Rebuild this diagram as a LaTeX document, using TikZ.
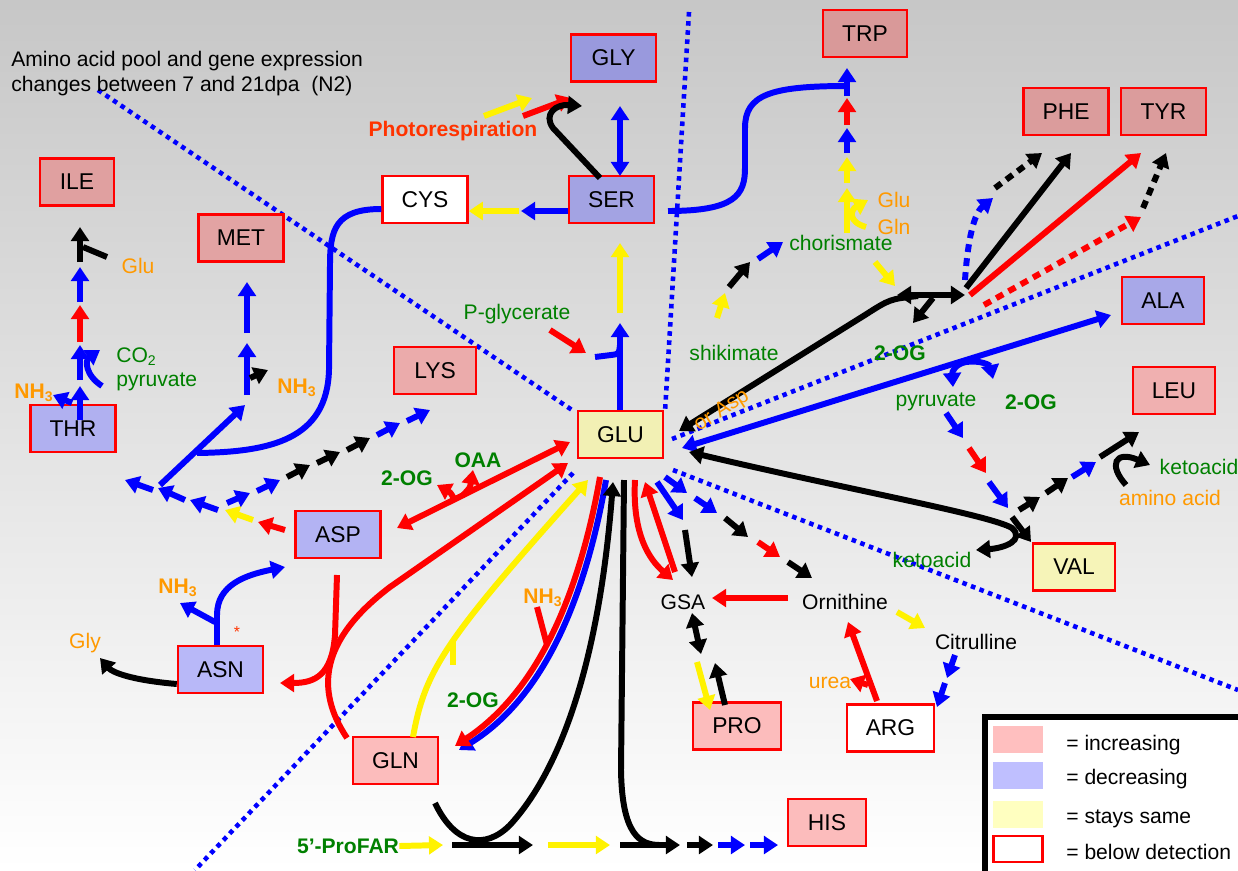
\documentclass[tikz,border=0pt]{standalone}
\usepackage{fontspec}
\setmainfont{Liberation Sans}
\usetikzlibrary{arrows.meta}

\definecolor{aagreen}{HTML}{008000}
\definecolor{aaorange}{HTML}{FF9900}
\definecolor{photo}{HTML}{FF3300}
\definecolor{incr}{HTML}{FFBFBF}
\definecolor{decr}{HTML}{BFBFFF}
\definecolor{same}{HTML}{FFFFC0}

\begin{document}
\begin{tikzpicture}[x=0.02cm, y=-0.02cm,
  >={Triangle[length=8pt,width=10pt]},
  aa/.style={draw=red, line width=1.4pt, minimum width=1.7cm, minimum height=0.94cm,
    inner sep=0pt, font=\fontsize{13}{13}\selectfont},
  lbl/.style={inner sep=0pt, font=\fontsize{12}{14}\selectfont},
  grn/.style={lbl, text=aagreen},
  grnb/.style={lbl, text=aagreen, font=\fontsize{12}{14}\selectfont\bfseries},
  org/.style={lbl, text=aaorange},
  orgb/.style={lbl, text=aaorange, font=\fontsize{12}{14}\selectfont\bfseries},
  arr/.style={->, line width=3.4pt},
  redarr/.style={arr, red},
  bluearr/.style={arr, blue},
  blackarr/.style={arr, black},
  yellowarr/.style={arr, yellow},
  dots/.style={dash pattern=on 4.5pt off 3.5pt},
  sep/.style={blue, line width=2.6pt, dash pattern=on 2.6pt off 2.6pt}]

% Background
\shade[top color=black!22, bottom color=white] (0,0) rectangle (1238,870);
\useasboundingbox (0,0) rectangle (1238,870);

% Dividers
\draw[sep] (98,90) -- (572,410);
\draw[sep] (689,12) -- (665,412);
\draw[sep] (672,439) -- (1238,216);
\draw[sep] (673,470) -- (1238,690);
\draw[sep] (573,473) -- (195,870);

% Title
\node[lbl, anchor=north west, align=left] (title) at (11,51)
  {Amino acid pool and gene expression\\changes between 7 and 21dpa\ \ (N2)};

% Amino acids
\node[aa, fill={rgb,255:red,153;green,153;blue,221}] (gly) at (613.5,58) {GLY};
\node[aa, fill={rgb,255:red,163;green,163;blue,227}] (ser) at (611.5,199.5) {SER};
\node[aa, fill=white] (cys) at (425,199.5) {CYS};
\node[aa, fill={rgb,255:red,217;green,153;blue,153}, minimum width=1.68cm] (trp) at (865,33.5) {TRP};
\node[aa, fill={rgb,255:red,219;green,156;blue,156}] (phe) at (1066,111.5) {PHE};
\node[aa, fill={rgb,255:red,219;green,156;blue,156}] (tyr) at (1163.5,111.5) {TYR};
\node[aa, fill={rgb,255:red,224;green,160;blue,160}, minimum width=1.48cm] (ile) at (77,182) {ILE};
\node[aa, fill={rgb,255:red,226;green,163;blue,163}] (met) at (241,238) {MET};
\node[aa, fill={rgb,255:red,235;green,171;blue,171}, minimum width=1.64cm] (lys) at (435,370.5) {LYS};
\node[aa, fill={rgb,255:red,168;green,168;blue,232}, minimum width=1.64cm] (ala) at (1163,300.5) {ALA};
\node[aa, fill={rgb,255:red,240;green,176;blue,176}, minimum width=1.64cm] (leu) at (1174,390.5) {LEU};
\node[aa, fill={rgb,255:red,176;green,176;blue,240}] (thr) at (73,428.5) {THR};
\node[aa, fill={rgb,255:red,242;green,240;blue,180}] (glu) at (620.5,434.5) {GLU};
\node[aa, fill={rgb,255:red,179;green,179;blue,243}] (asp) at (338,534.5) {ASP};
\node[aa, fill={rgb,255:red,246;green,244;blue,184}, minimum width=1.64cm] (val) at (1074,567) {VAL};
\node[aa, fill={rgb,255:red,184;green,184;blue,248}] (asn) at (220.5,669.5) {ASN};
\node[aa, fill={rgb,255:red,252;green,188;blue,188}] (gln) at (395.5,760.5) {GLN};
\node[aa, fill={rgb,255:red,252;green,188;blue,188}, minimum width=1.76cm] (pro) at (737,726) {PRO};
\node[aa, fill=white, minimum width=1.74cm] (arg) at (890.5,728) {ARG};
\node[aa, fill={rgb,255:red,252;green,188;blue,188}, minimum width=1.56cm] (his) at (827,822.5) {HIS};

% Labels
\node[lbl, text=photo, font=\fontsize{12}{14}\selectfont\bfseries] (photoresp) at (453,131) {Photorespiration};
\node[grn] (pglyc) at (517,314) {P-glycerate};
\node[grn] (shik) at (734,353) {shikimate};
\node[grn] (chor) at (841,243) {chorismate};
\node[org] (glua) at (894,200) {Glu};
\node[org] (glna) at (894,227) {Gln};
\node[grnb] (og1) at (900,353) {2-OG};
\node[grn] (pyr1) at (936,402) {pyruvate};
\node[grnb] (og2) at (1031,402) {2-OG};
\node[grn] (keto1) at (1199,467) {ketoacid};
\node[org] (amino) at (1170,498) {amino acid};
\node[grn] (keto2) at (932,560) {ketoacid};
\node[lbl] (gsa) at (683,602) {GSA};
\node[lbl] (orn) at (845,602) {Ornithine};
\node[lbl] (cit) at (976,642) {Citrulline};
\node[org] (urea) at (830,683) {urea};
\node[grnb] (og3) at (407,478) {2-OG};
\node[grnb] (oaa) at (478,460) {OAA};
\node[grnb] (og4) at (473,700) {2-OG};
\node[orgb] (nh3a) at (543,598) {NH\textsubscript{3}};
\node[orgb] (nh3b) at (178,588) {NH\textsubscript{3}};
\node[lbl, text=photo, font=\fontsize{9}{9}\selectfont] (star) at (237,632) {*};
\node[org] (gly2) at (85,643) {Gly};
\node[grnb] (profar) at (348,846) {5’-ProFAR};
\node[orgb] (nh3c) at (297,388) {NH\textsubscript{3}};
\node[orgb] (nh3d) at (34,393) {NH\textsubscript{3}};
\node[grn, anchor=west] (co2) at (116,357) {CO\textsubscript{2}};
\node[grn, anchor=west] (pyr2) at (116,382) {pyruvate};
\node[org] (glub) at (138,266) {Glu};

% Serine, glycine, cysteine
\draw[yellowarr] (484,116) -- (532,98);
\draw[redarr] (523,116) -- (571,98);
\draw[blackarr] (600,178) -- (553,128) .. controls (543,114) and (556,104) .. (582,106);
\draw[bluearr, <->] (620,176) -- (620,106);
\draw[bluearr] (ser.west |- 0,211) -- (521,211);
\draw[yellowarr] (519,211) -- (cys.east |- 0,211);
\draw[yellowarr] (620,313) -- (620,243);
\draw[bluearr] (glu.north -| 620,0) -- (620,323);
\draw[blue, line width=3.4pt] (595,357) -- (611,355) .. controls (619,354) .. (620,345);
\draw[redarr] (550,330) -- (586,353);

% Aromatic branch
\draw[blue, line width=3.4pt] (668,211) .. controls (735,211) and (745,195) .. (745,168)
  -- (745,128) .. controls (745,95) and (770,86) .. (847,86);
\draw[bluearr] (847,96) -- (847,68);
\draw[redarr] (847,125) -- (847,98);
\draw[bluearr] (847,153) -- (847,128);
\draw[yellowarr] (847,183) -- (847,157);
\draw[yellowarr] (847,233) -- (847,188);
\draw[yellowarr] (866,227) .. controls (848,222) and (850,210) .. (868,200);
\draw[yellowarr] (717,318) -- (725,293);
\draw[blackarr] (729,287) -- (750,262);
\draw[bluearr] (758,259) -- (783,242);
\draw[yellowarr] (875,262) -- (895,286);
\draw[blackarr, <->] (897,295) -- (965,295);
\draw[blackarr] (918,296) .. controls (890,299) .. (865,315) -- (679,431);
\draw[blackarr] (933,298) -- (913,323);
\draw[bluearr, dots] (965,280) .. controls (967,250) and (972,215) .. (993,198);
\draw[blackarr, dots] (995,188) -- (1042,153);
\draw[blackarr] (966,288) -- (1071,153);
\draw[redarr] (970,295) -- (1141,153);
\draw[redarr, dots] (984,305) -- (1141,217);
\draw[blackarr, dots] (1143,208) -- (1166,153);

% Alanine, valine, leucine
\draw[bluearr, <->] (682,448) -- (1111,315);
\draw[bluearr] (966,362) .. controls (955,364) and (952,372) .. (953,387);
\draw[bluearr] (966,362) .. controls (980,360) and (990,365) .. (993,379);
\draw[bluearr] (946,413) -- (963,438);
\draw[redarr] (969,448) -- (986,473);
\draw[bluearr] (989,482) -- (1008,508);
\draw[blackarr] (1019,510) -- (1040,497);
\draw[blackarr] (1046,493) -- (1068,478);
\draw[bluearr] (1072,477) -- (1096,462);
\draw[blackarr] (1100,457) -- (1139,432);
\draw[blackarr] (1126,485) .. controls (1108,465) and (1115,450) .. (1150,465);
\draw[blackarr, <->] (689,452) .. controls (850,490) and (990,515) .. (1012,528)
  .. controls (1025,540) and (1005,548) .. (976,550);
\draw[blackarr] (1012,517) -- (1031,542);
\node[org, rotate=33] (orasp) at (722,411) {or Asp};

% Proline, arginine
\draw[bluearr] (665,477) -- (687,493);
\draw[bluearr] (657,482) -- (683,520);
\draw[bluearr] (695,498) -- (717,513);
\draw[blackarr] (725,518) -- (748,537);
\draw[redarr] (758,542) -- (780,557);
\draw[blackarr] (788,562) -- (812,578);
\draw[blackarr] (685,530) -- (692,577);
\draw[redarr] (635,480) .. controls (632,535) and (650,560) .. (673,580);
\draw[redarr] (675,572) -- (645,482);
\draw[redarr] (788,598) -- (712,598);
\draw[yellowarr] (897,612) -- (925,628);
\draw[bluearr] (955,655) -- (947,678);
\draw[bluearr] (945,683) -- (937,707);
\draw[redarr] (877,701) -- (848,622);
\draw[redarr] (868,685) -- (850,679);
\draw[blackarr, <->] (692,613) -- (701,654);
\draw[yellowarr] (697,662) -- (710,710);
\draw[blackarr] (725,705) -- (715,663);

% Glutamine
\draw[blue, line width=3.4pt, ->] (606,480) .. controls (586,595) and (545,697) .. (459,750);
\draw[redarr] (600,477) .. controls (580,590) and (540,690) .. (455,746);
\draw[red, line width=3.4pt] (537,607) -- (547,645);
\draw[blackarr] (435,803) .. controls (455,845) and (485,850) .. (510,825)
  .. controls (565,765) and (600,650) .. (613,482);
\draw[black, line width=3.4pt] (624,480) -- (621,770) .. controls (622,835) and (640,845) .. (660,845);
\draw[yellowarr] (413,737) .. controls (425,670) and (445,640) .. (588,480);
\draw[yellow, line width=3.4pt] (453,640) -- (453,665);

% Aspartate and its family
\draw[redarr] (347,738) .. controls (315,690) and (320,640) .. (390,587) -- (568,463);
\draw[redarr] (337,575) -- (335,635) .. controls (332,675) and (315,683) .. (280,683);
\draw[redarr, <->] (397,528) -- (570,442);
\draw[redarr] (455,500) .. controls (450,492) .. (437,485);
\draw[redarr] (462,496) .. controls (470,488) .. (473,470);
\draw[redarr] (285,530) -- (258,522);
\draw[yellowarr] (253,520) -- (225,510);
\draw[bluearr] (218,510) -- (190,500);
\draw[bluearr] (185,500) -- (158,488);
\draw[bluearr] (153,490) -- (125,480);
\draw[bluearr] (227,503) -- (250,493);
\draw[bluearr] (257,491) -- (280,480);
\draw[blackarr] (287,477) -- (310,465);
\draw[blackarr] (317,463) -- (340,452);
\draw[blackarr] (347,450) -- (370,438);
\draw[bluearr] (377,435) -- (400,423);
\draw[bluearr] (407,421) -- (430,410);
\draw[bluearr] (160,485) -- (245,405);
\draw[blue, line width=3.4pt] (cys.west |- 0,209) .. controls (335,209) and (330,230) .. (330,265)
  -- (329,370) .. controls (327,440) and (270,452) .. (197,453);
\draw[bluearr] (247,395) -- (247,343);
\draw[blackarr] (250,378) -- (268,370);
\draw[bluearr] (247,333) -- (247,282);
\draw[bluearr] (80,420) -- (80,386);
\draw[bluearr] (72,403) -- (53,395);
\draw[bluearr] (80,380) -- (80,345);
\draw[bluearr] (102,386) .. controls (85,375) and (85,360) .. (100,350);
\draw[redarr] (80,342) -- (80,305);
\draw[bluearr] (80,302) -- (80,267);
\draw[blackarr] (80,262) -- (80,227);
\draw[black, line width=3.4pt] (107,257) -- (83,247);
\draw[bluearr] (asn.north -| 217,0) -- (217,615) .. controls (217,585) and (245,575) .. (285,567);
\draw[bluearr] (215,622) -- (180,603);
\draw[blackarr] (asn.west |- 0,684) .. controls (130,680) and (112,672) .. (100,658);

% Histidine
\draw[yellowarr] (profar.east) -- (443,845);
\draw[blackarr] (452,845) -- (533,845);
\draw[yellowarr] (548,845) -- (610,845);
\draw[blackarr] (620,845) -- (680,845);
\draw[blackarr] (687,845) -- (713,845);
\draw[bluearr] (718,845) -- (745,845);
\draw[bluearr] (750,845) -- (778,845);

% Legend
\draw[line width=3.4pt, fill=white] (985,717) rectangle (1250,880);
\node[fill=incr, minimum width=1.0cm, minimum height=0.54cm, inner sep=0pt] (kinc) at (1018,739.5) {};
\node[fill=decr, minimum width=1.0cm, minimum height=0.54cm, inner sep=0pt] (kdec) at (1018,775.5) {};
\node[fill=same, minimum width=1.0cm, minimum height=0.54cm, inner sep=0pt] (ksame) at (1018,814.5) {};
\node[draw=red, line width=1.4pt, fill=white, minimum width=0.98cm, minimum height=0.52cm, inner sep=0pt] (kbelow) at (1018,849) {};
\node[lbl, anchor=west] (tinc) at (1066,745) {= increasing};
\node[lbl, anchor=west] (tdec) at (1066,779) {= decreasing};
\node[lbl, anchor=west] (tsame) at (1066,819) {= stays same};
\node[lbl, anchor=west] (tbelow) at (1066,852) {= below detection};
\end{tikzpicture}
\end{document}
